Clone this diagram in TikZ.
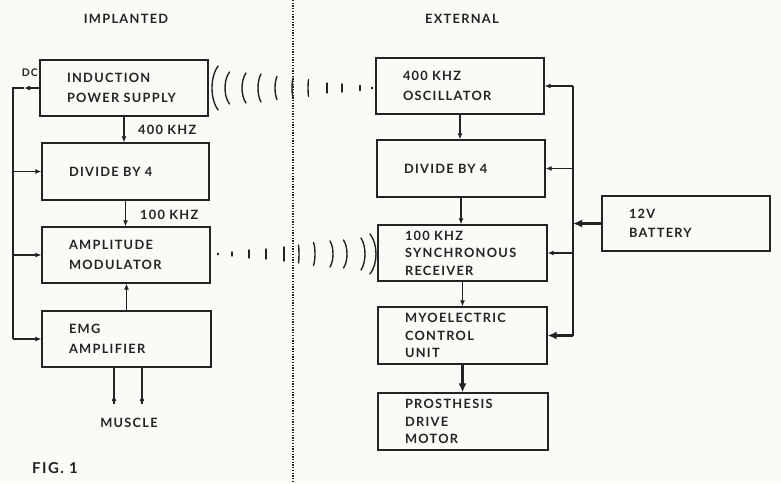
\documentclass[tikz,border=0pt]{standalone}
\usepackage{fontspec}
\setmainfont{Lato}[LetterSpace=10]
\usetikzlibrary{arrows.meta}
\definecolor{bg}{RGB}{250,250,246}
\definecolor{ink}{RGB}{35,35,35}
\begin{document}
\begin{tikzpicture}[x=1pt,y=-1pt,
  box/.style={draw=ink, line width=1.3pt, align=left, inner xsep=27pt, inner ysep=0pt, text=ink, font=\fontsize{12.8}{19.5}\selectfont\bfseries},
  box3/.style={box, font=\fontsize{12.8}{17.5}\selectfont\bfseries},
  ln/.style={draw=ink, line width=1.1pt},
  arr/.style={ln, -{Latex[length=6pt,width=5pt]}},
  tline/.style={draw=ink, line width=2.6pt},
  tarr/.style={tline, -{Latex[length=9pt,width=8pt]}},
  lbl/.style={text=ink, inner sep=0pt, font=\fontsize{12.8}{14}\selectfont\bfseries},
  wv/.style={draw=ink, line width=1.4pt, line cap=round}]
\useasboundingbox[fill=bg] (0,0) rectangle (781,483);

% divider
\draw[ink, line width=1.7pt, dash pattern=on 1.3pt off 1.4pt] (293,0) -- (293,483);

% headings
\node[lbl] (himp) at (126,19) {IMPLANTED};
\node[lbl] (hext) at (462,19) {EXTERNAL};

% implanted boxes
\node[box, text width=114pt, minimum height=56pt] (ind) at (124,88) {INDUCTION\\POWER SUPPLY};
\node[box, text width=113pt, minimum height=57pt] (div1) at (125.5,171.5) {DIVIDE BY 4};
\node[box, text width=114pt, minimum height=56pt] (amod) at (126,255) {AMPLITUDE\\MODULATOR};
\node[box, text width=115pt, minimum height=56pt] (emg) at (126.5,339) {EMG\\AMPLIFIER};

% external boxes
\node[box, text width=114pt, minimum height=56pt] (osc) at (460,86) {400 KHZ\\OSCILLATOR};
\node[box, text width=114pt, minimum height=57pt] (div2) at (461,168.5) {DIVIDE BY 4};
\node[box3, text width=115pt, minimum height=56pt] (sync) at (462.5,253) {100 KHZ\\SYNCHRONOUS\\RECEIVER};
\node[box3, text width=115pt, minimum height=57pt] (myo) at (462.5,335.5) {MYOELECTRIC\\CONTROL\\UNIT};
\node[box3, text width=116pt, minimum height=57pt] (pros) at (463,421.5) {PROSTHESIS\\DRIVE\\MOTOR};
\node[box, text width=114pt, minimum height=55pt] (bat) at (686,223.5) {12V\\BATTERY};

% implanted arrows
\draw[arr] (ind.south) -- (ind.south |- div1.north);
\node[lbl, anchor=west] (l400) at (138,130) {400 KHZ};
\draw[arr] (div1.south) -- (div1.south |- amod.north);
\node[lbl, anchor=west] (l100) at (140,215) {100 KHZ};
\draw[arr] (emg.north) -- (emg.north |- amod.south);

% DC feedback
\node[lbl, anchor=east, font=\fontsize{10.5}{12}\selectfont\bfseries] (dc) at (38,73) {DC};
\coordinate (dcA) at (24,88);
\coordinate (fbT) at (13,88);
\coordinate (fbB) at (13,339);
\draw[arr] (ind.west) -- (dcA);
\draw[ln] (dcA) -- (fbT) -- (fbB);
\draw[arr] (fbB) -- (emg.west);
\draw[arr] (fbT |- div1.west) -- (div1.west);
\draw[arr] (fbT |- amod.west) -- (amod.west);

% muscle inputs
\coordinate (m1) at (114,404);
\coordinate (m2) at (142,404);
\draw[ln] (m1) -- (m1 |- emg.south);
\draw[ln] (m2) -- (m2 |- emg.south);
\draw[arr] (m1) -- ++(0,-9);
\draw[arr] (m2) -- ++(0,-9);
\node[lbl] (mus) at (129,423) {MUSCLE};

% external arrows
\draw[arr] (osc.south) -- (osc.south |- div2.north);
\draw[arr] (div2.south) -- (div2.south |- sync.north);
\draw[arr] (sync.south) -- (sync.south |- myo.north);
\draw[tarr] (myo.south) -- (myo.south |- pros.north);

% power bus
\coordinate (bT) at (573,86);
\coordinate (bJ) at (573,223.5);
\coordinate (bB) at (573,335.5);
\draw[ln] (bT) -- (bJ);
\draw[arr] (bT) -- (osc.east);
\draw[arr] (bT |- div2.east) -- (div2.east);
\draw[arr] (bT |- sync.east) -- (sync.east);
\draw[tline] (bJ) -- (bB);
\draw[tarr] (bB) -- (myo.east);
\draw[tarr] (bat.west) -- (bJ);

% induction waves (top)
\foreach \x/\h/\d in {212/22/6, 225/16/4.5, 242/15/4, 258/14/3, 275/11.5/2, 292/10/1.2, 308/8.5/0.5, 327/5/0, 342/4/0, 360/2.5/0, 372/0.6/0}
  \draw[wv] (\x+\d,88-\h) .. controls (\x-\d/3,88-\h/2) and (\x-\d/3,88+\h/2) .. (\x+\d,88+\h);

% telemetry waves (bottom)
\foreach \x/\h/\d in {218/0.6/0, 232/2/0, 249/4/0, 266/5/0, 284/7/0, 299/9/0.5, 315/11.5/1.5, 333/13/3, 347/14/3.5, 365/16/4, 376/20/6}
  \draw[wv] (\x-\d,254-\h) .. controls (\x+\d/3,254-\h/2) and (\x+\d/3,254+\h/2) .. (\x-\d,254+\h);

\node[text=ink, inner sep=0pt, font=\fontsize{15}{15}\selectfont\bfseries] (fig) at (55,468) {FIG. 1};
\end{tikzpicture}
\end{document}
